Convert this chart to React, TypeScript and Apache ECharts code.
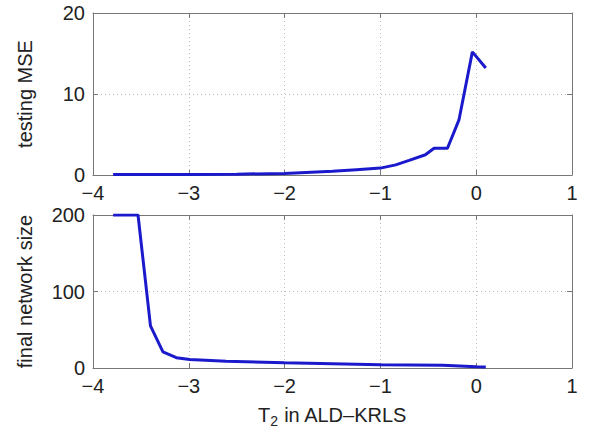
import React, { useEffect, useRef } from "react";
import * as echarts from "echarts";

const mseX = [-3.79, -3.5, -3.0, -2.5, -2.0, -1.5, -1.25, -1.0, -0.84, -0.7, -0.53, -0.44, -0.3, -0.18, -0.04, 0.1];
const mseY = [0.05, 0.05, 0.06, 0.1, 0.2, 0.45, 0.65, 0.85, 1.25, 1.8, 2.5, 3.3, 3.3, 6.8, 15.2, 13.2];

const sizeX = [-3.79, -3.53, -3.4, -3.27, -3.13, -2.99, -2.61, -2.0, -1.0, -0.35, 0.0, 0.1];
const sizeY = [200, 200, 55, 21, 13.5, 11, 8.7, 7, 4.4, 3.5, 1.7, 1.3];

const xTicks = [-4, -3, -2, -1, 0, 1];
const mseTicks = [0, 10, 20];
const sizeTicks = [0, 100, 200];

const FONT = "Liberation Sans, Arial, Helvetica, sans-serif";
const LINE = "#1a1acc";
const AXIS = "#777";

export default function App() {
  const ref = useRef<HTMLDivElement>(null);
  useEffect(() => {
    if (!ref.current) return;
    const chart = echarts.init(ref.current, null, { renderer: "svg" });
    const grids = [
      { left: 93, right: 24, top: 13, height: 162 },
      { left: 93, right: 24, top: 215, height: 153 },
    ];
    const label = { color: "#222", fontSize: 20, fontFamily: FONT };
    const mkX = (gi: number, main: boolean) => ({
      type: "value",
      gridIndex: gi,
      min: xTicks[0],
      max: xTicks[xTicks.length - 1],
      interval: 1,
      position: main ? "bottom" : "top",
      axisLine: { show: true, onZero: false, lineStyle: { color: AXIS, width: 1 } },
      axisTick: { show: true, inside: true, length: 5, lineStyle: { color: AXIS } },
      axisLabel: main ? { ...label, margin: 8, formatter: (v: number) => (v < 0 ? "\u2212" + Math.abs(v) : String(v)) } : { show: false },
      splitLine: main ? { show: true, lineStyle: { color: "#bbb", type: [1, 3], width: 1 } } : { show: false },
      ...(main && gi === 1
        ? {
            name: "{a|T}{s|2}{a| in ALD\u2013KRLS}",
            nameLocation: "middle",
            nameGap: 34,
            nameTextStyle: {
              rich: {
                a: { fontSize: 20, fontFamily: FONT, color: "#222" },
                s: { fontSize: 14, fontFamily: FONT, color: "#222", padding: [12, 0, 0, 0] },
              },
            },
          }
        : {}),
    });
    const mkY = (gi: number, main: boolean, ticks: number[], name: string) => ({
      type: "value",
      gridIndex: gi,
      min: ticks[0],
      max: ticks[ticks.length - 1],
      interval: ticks[1] - ticks[0],
      position: main ? "left" : "right",
      axisLine: { show: true, onZero: false, lineStyle: { color: AXIS, width: 1 } },
      axisTick: { show: true, inside: true, length: 5, lineStyle: { color: AXIS } },
      axisLabel: main ? { ...label, margin: 8 } : { show: false },
      splitLine: main ? { show: true, lineStyle: { color: "#bbb", type: [1, 3], width: 1 } } : { show: false },
      ...(main
        ? {
            name,
            nameLocation: "middle",
            nameRotate: 90,
            nameGap: 58,
            nameTextStyle: { fontSize: 20, fontFamily: FONT, color: "#222" },
          }
        : {}),
    });
    chart.setOption({
      animation: false,
      backgroundColor: "#fff",
      grid: grids,
      xAxis: [mkX(0, true), mkX(0, false), mkX(1, true), mkX(1, false)],
      yAxis: [
        mkY(0, true, mseTicks, "testing MSE"),
        mkY(0, false, mseTicks, ""),
        mkY(1, true, sizeTicks, "final network size"),
        mkY(1, false, sizeTicks, ""),
      ],
      series: [
        {
          type: "line",
          xAxisIndex: 0,
          yAxisIndex: 0,
          data: mseX.map((x, i) => [x, mseY[i]]),
          showSymbol: false,
          lineStyle: { color: LINE, width: 3 },
        },
        {
          type: "line",
          xAxisIndex: 2,
          yAxisIndex: 2,
          data: sizeX.map((x, i) => [x, sizeY[i]]),
          showSymbol: false,
          lineStyle: { color: LINE, width: 3 },
        },
      ],
    });
    return () => chart.dispose();
  }, []);
  return <div ref={ref} style={{ width: 596, height: 438, position: "absolute", left: 0, top: 0 }} />;
}
